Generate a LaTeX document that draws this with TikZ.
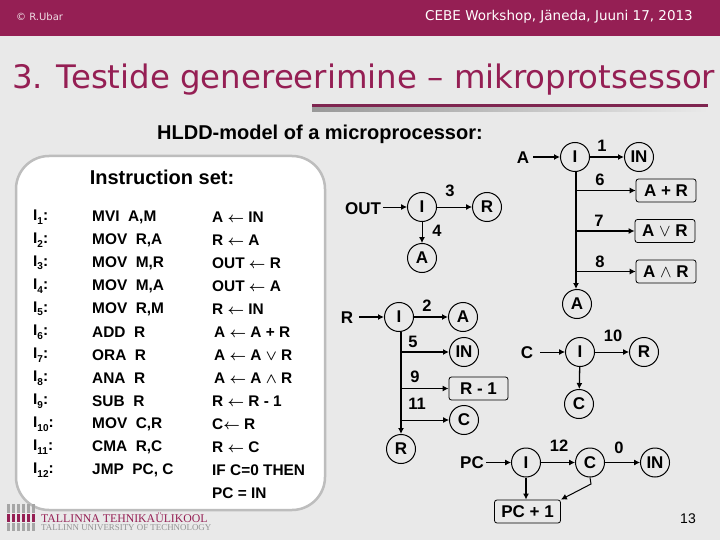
\documentclass[tikz,border=0pt]{standalone}
\usepackage{fontspec}
\setmainfont{Liberation Sans}
\newfontfamily\titlefont{DejaVu Sans}
\newfontfamily\logofont{Liberation Serif}
\usetikzlibrary{arrows.meta}
\definecolor{band}{HTML}{951F54}
\definecolor{rulec}{HTML}{7F2550}
\definecolor{bgc}{HTML}{E9E9E9}
\definecolor{panelb}{HTML}{BDBDBD}
\tikzset{
 x=1pt,y=-1pt,
 circ/.style={circle,draw=black,line width=1pt,minimum size=29pt,inner sep=0pt,font=\fontsize{17}{17}\selectfont\bfseries},
 bx/.style={rectangle,rounded corners=2.5pt,draw=black,line width=0.8pt,minimum width=60pt,minimum height=23pt,inner sep=0pt,font=\fontsize{17}{17}\selectfont\bfseries},
 lab/.style={inner ysep=0pt,inner xsep=2pt,font=\fontsize{17}{17}\selectfont\bfseries},
 num/.style={inner sep=0pt,font=\fontsize{16.5}{16.5}\selectfont\bfseries},
 thin arr/.style={line width=0.8pt,-{Latex[length=6pt,width=6pt]}},
 thick arr/.style={line width=1.3pt,-{Latex[length=6pt,width=6pt]}},
 itxt/.style={inner sep=0pt,anchor=west,font=\fontsize{15.4}{15.4}\selectfont\bfseries\boldmath},
}
\newcommand{\sbs}[1]{\raisebox{-3.5pt}{\fontsize{10}{10}\selectfont #1}}
\begin{document}
\begin{tikzpicture}
\useasboundingbox (0,0) rectangle (720,540);
\fill[bgc] (0,0) rectangle (720,540);
\fill[band] (0,0) rectangle (720,36);
\node[anchor=west,inner sep=0pt,text=white!85!band,font=\titlefont\fontsize{10}{10}\selectfont] (copy) at (16,17) {© R.Ubar};
\node[anchor=east,inner sep=0pt,text=white,font=\titlefont\fontsize{13.5}{13.5}\selectfont] (conf) at (693,17) {CEBE Workshop, Jäneda, Juuni 17, 2013};
\node[anchor=west,inner sep=0pt,text=band,font=\titlefont\fontsize{32.4}{32.4}\selectfont] (title) at (12,80) {3. Testide genereerimine – mikroprotsessor};
\shade[left color=gray!80,right color=bgc] (312,107) rectangle (708,112);
\fill[rulec] (312,104) rectangle (708,107.5);
% panel
\draw[panelb,line width=2.5pt,fill=white,rounded corners=33pt] (16,156) rectangle (325,510);
\node[inner sep=0pt,font=\fontsize{20}{20}\selectfont\bfseries] (hl) at (320,134) {HLDD-model of a microprocessor:};
\node[inner sep=0pt,font=\fontsize{20}{20}\selectfont\bfseries] (is) at (162,177) {Instruction set:};
% table
\node[itxt] (i1) at (33,217) {I\sbs{1}:};
\node[itxt] (i2) at (33,240) {I\sbs{2}:};
\node[itxt] (i3) at (33,263) {I\sbs{3}:};
\node[itxt] (i4) at (33,286) {I\sbs{4}:};
\node[itxt] (i5) at (33,309) {I\sbs{5}:};
\node[itxt] (i6) at (33,332) {I\sbs{6}:};
\node[itxt] (i7) at (33,355) {I\sbs{7}:};
\node[itxt] (i8) at (33,378) {I\sbs{8}:};
\node[itxt] (i9) at (33,401) {I\sbs{9}:};
\node[itxt] (i10) at (33,424) {I\sbs{10}:};
\node[itxt] (i11) at (33,447) {I\sbs{11}:};
\node[itxt] (i12) at (33,470) {I\sbs{12}:};
\node[itxt] (m1) at (92,217) {MVI\ \ A,M};
\node[itxt] (m2) at (92,240) {MOV\ \ R,A};
\node[itxt] (m3) at (92,263) {MOV\ \ M,R};
\node[itxt] (m4) at (92,286) {MOV\ \ M,A};
\node[itxt] (m5) at (92,309) {MOV\ \ R,M};
\node[itxt] (m6) at (92,332) {ADD\ \ R};
\node[itxt] (m7) at (92,355) {ORA\ \ R};
\node[itxt] (m8) at (92,378) {ANA\ \ R};
\node[itxt] (m9) at (92,401) {SUB\ \ R};
\node[itxt] (m10) at (92,424) {MOV\ \ C,R};
\node[itxt] (m11) at (92,447) {CMA\ \ R,C};
\node[itxt] (m12) at (92,470) {JMP\ \ PC, C};
\node[itxt] (r1) at (212,217) {A $\leftarrow$ IN};
\node[itxt] (r2) at (212,240) {R $\leftarrow$ A};
\node[itxt] (r3) at (212,263) {OUT $\leftarrow$ R};
\node[itxt] (r4) at (212,286) {OUT $\leftarrow$ A};
\node[itxt] (r5) at (212,309) {R $\leftarrow$ IN};
\node[itxt] (r6) at (214,332) {A $\leftarrow$ A + R};
\node[itxt] (r7) at (214,355) {A $\leftarrow$ A $\vee$ R};
\node[itxt] (r8) at (214,378) {A $\leftarrow$ A $\wedge$ R};
\node[itxt] (r9) at (212,401) {R $\leftarrow$ R - 1};
\node[itxt] (r10) at (212,424) {C$\leftarrow$ R};
\node[itxt] (r11) at (212,447) {R $\leftarrow$ C};
\node[itxt] (r12) at (212,470) {IF C=0 THEN};
\node[itxt] (r13) at (212,493) {PC = IN};
% logo
\foreach \xx in {7,12,17,22,27,32}{
 \fill[gray!70] (\xx,504) rectangle ++(3,9);
 \fill[band] (\xx,513.5) rectangle ++(3,8.5);
 \fill[gray!70] (\xx,522.5) rectangle ++(3,8.5);
}
\node[anchor=west,inner sep=0pt,text=band,font=\logofont\fontsize{11.8}{11.8}\selectfont] (l1) at (41,518) {TALLINNA TEHNIKAÜLIKOOL};
\node[anchor=west,inner sep=0pt,text=gray!85,font=\logofont\fontsize{8.9}{8.9}\selectfont] (l2) at (41,528) {TALLINN UNIVERSITY OF TECHNOLOGY};
% graph A
\node[lab] (Aa) at (523,158) {A};
\node[circ] (Ai) at (575,157) {I};
\node[circ] (Ain) at (639,157) {IN};
\node[bx] (Ab1) at (666,190.5) {A + R};
\node[bx] (Ab2) at (665,231) {A $\vee$ R};
\node[bx] (Ab3) at (666,271.5) {A $\wedge$ R};
\node[circ] (Aend) at (577,304) {A};
\draw[thick arr] (Aa.east |- Ai) ++(2,0) -- (Ai);
\draw[thick arr] (Ai) -- (Ain);
\draw[line width=1.6pt,-{Latex[length=6pt,width=6pt]}] (Ai.south) ++(1,0) coordinate (Av) -- (Av |- Aend.north);
\draw[thin arr] (Av |- Ab1) -- (Ab1);
\draw[thick arr] (Av |- Ab2) -- (Ab2);
\draw[thin arr] (Av |- Ab3) -- (Ab3);
\node[num] at (602,146) {1};
\node[num] at (600,180) {6};
\node[num] at (599,221) {7};
\node[num] at (600,262) {8};
% graph OUT
\node[lab] (Oo) at (363,209) {OUT};
\node[circ] (Oi) at (422,207) {I};
\node[circ] (Or) at (487,207) {R};
\node[circ] (Oa) at (422,258) {A};
\draw[thin arr] (Oo.east |- Oi) -- (Oi);
\draw[thin arr] (Oi) -- (Or);
\draw[thin arr] (Oi) -- (Oa);
\node[num] at (450,191) {3};
\node[num] at (437,231) {4};
% graph R
\node[lab] (Rr) at (347,318) {R};
\node[circ] (Ri) at (399,317) {I};
\node[circ] (Ra) at (463,317) {A};
\node[circ] (Rin) at (464,352) {IN};
\node[bx,minimum width=59pt] (Rb) at (478.5,388.5) {R - 1};
\node[circ] (Rc) at (464,420) {C};
\node[circ] (Rend) at (401,449) {R};
\draw[thick arr] (Rr.east |- Ri) ++(4,0) -- (Ri);
\draw[thick arr] (Ri) -- (Ra);
\draw[line width=1.3pt,-{Latex[length=6pt,width=6pt]}] (Ri.south) ++(2,0) coordinate (Rv) -- (Rv |- Rend.north);
\draw[thick arr] (Rv |- Rin) -- (Rin);
\draw[thick arr] (Rv |- Rb) -- (Rb);
\draw[thin arr] (Rv |- Rc) -- (Rc);
\node[num] at (427,306) {2};
\node[num] at (413,342) {5};
\node[num] at (415,377) {9};
\node[num] at (417,404) {11};
% graph C
\node[lab] (Cc) at (527,353) {C};
\node[circ] (Ci) at (580,352) {I};
\node[circ] (Cr) at (644,352) {R};
\node[circ] (Cb) at (579,404) {C};
\draw[thin arr] (Cc.east |- Ci) ++(5,0) -- (Ci);
\draw[thin arr] (Ci) -- (Cr);
\draw[thick arr] (Ci) -- (Cb);
\node[num] at (613,336) {10};
% graph PC
\node[lab] (Pp) at (472,463) {PC};
\node[circ] (Pi) at (526,462.5) {I};
\node[circ] (Pc) at (590,462.5) {C};
\node[circ] (Pin) at (655,462.5) {IN};
\node[bx,minimum width=66pt] (Pb) at (527.5,511.5) {PC + 1};
\coordinate (Pk) at (591,484);
\draw[thin arr] (Pp.east |- Pi) -- (Pi);
\draw[thin arr] (Pi) -- (Pc);
\draw[thin arr] (Pc) -- (Pin);
\draw[thick arr] (Pi.south) -- (Pi.south |- Pb.north);
\draw[line width=1pt,-{Latex[length=6pt,width=6pt]}] (Pc.south) -- (Pk) -- (Pb.north east);
\node[num] at (559,446) {12};
\node[num] at (619,448) {0};
\node[inner sep=0pt,font=\fontsize{14}{14}\selectfont] (pg) at (688,519) {13};
\end{tikzpicture}
\end{document}
